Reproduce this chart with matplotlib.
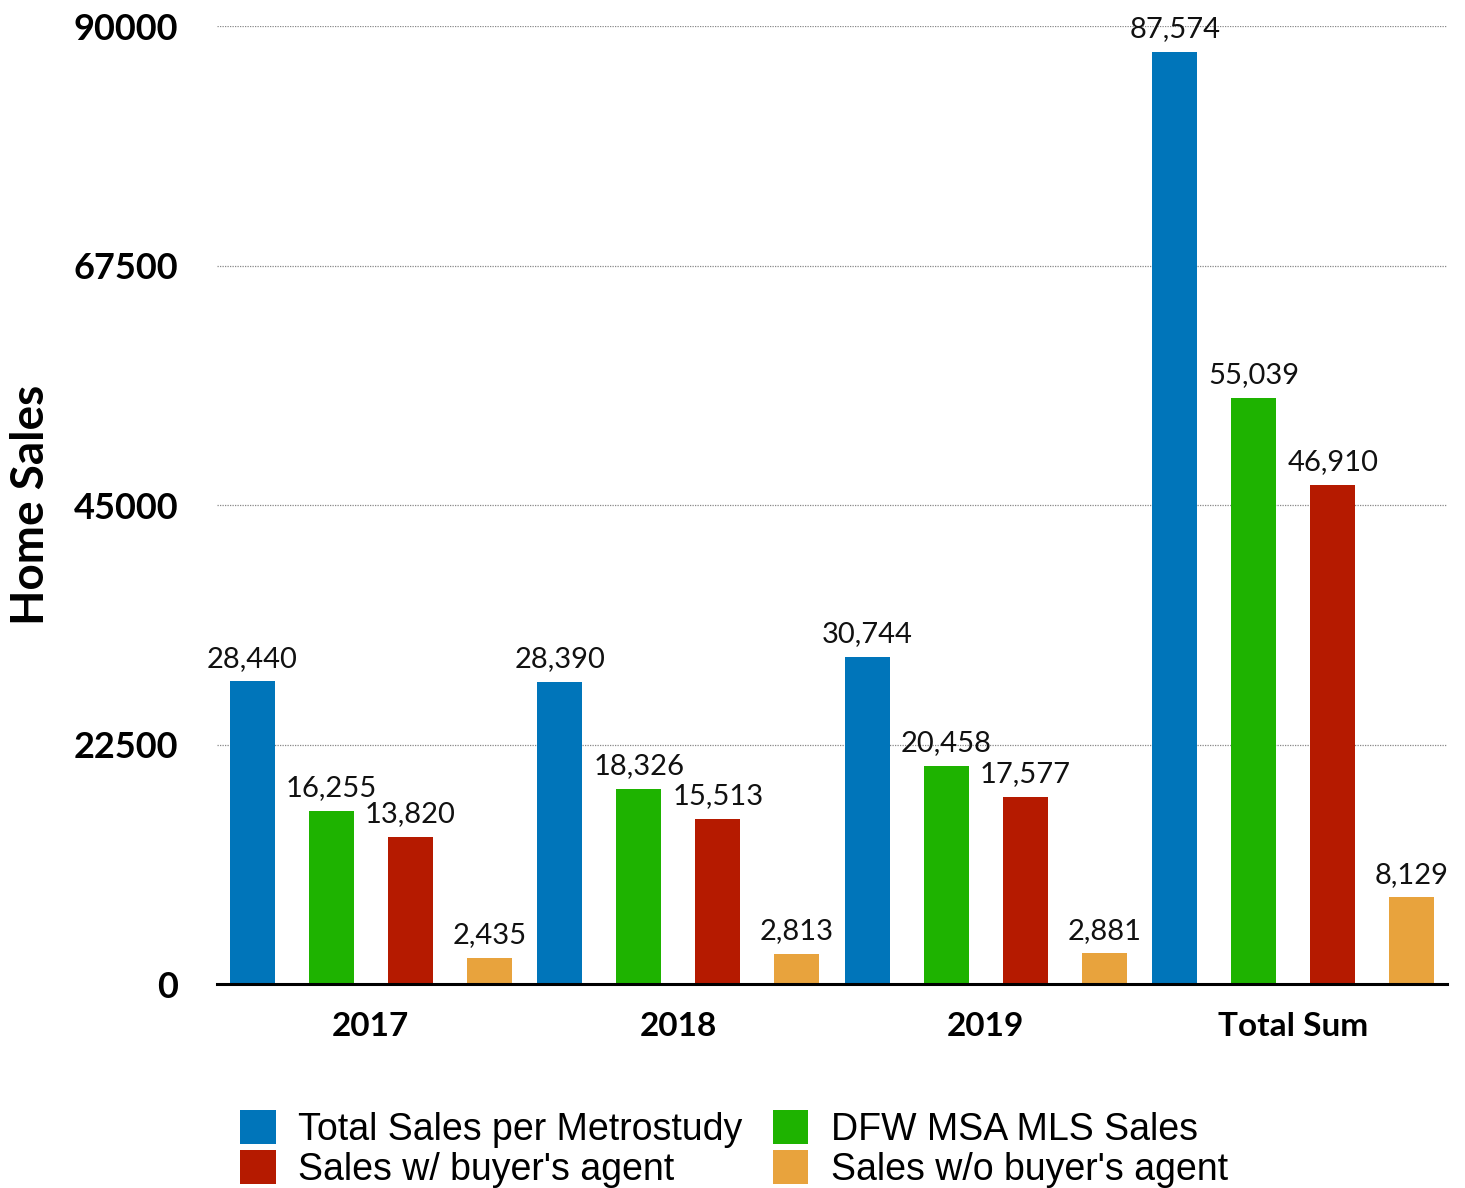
import matplotlib
matplotlib.use("Agg")
import matplotlib.pyplot as plt
from matplotlib.patches import Patch
import numpy as np

categories = ["2017", "2018", "2019", "Total Sum"]
series_names = ["Total Sales per Metrostudy", "DFW MSA MLS Sales",
                "Sales w/ buyer's agent", "Sales w/o buyer's agent"]
total_metrostudy = [28440, 28390, 30744, 87574]
dfw_mls = [16255, 18326, 20458, 55039]
with_agent = [13820, 15513, 17577, 46910]
without_agent = [2435, 2813, 2881, 8129]
y_ticks = [0, 22500, 45000, 67500, 90000]

colors = ["#0075BA", "#1EB300", "#B51A00", "#E8A33D"]
series = [total_metrostudy, dfw_mls, with_agent, without_agent]

fig = plt.figure(figsize=(14.65, 11.88), dpi=100)
ax = fig.add_axes([0.1481, 0.1717, 0.8396, 0.8064])

x = np.arange(len(categories))
pitch = 0.257
width = 0.146
offsets = [-1.5 * pitch, -0.5 * pitch, 0.5 * pitch, 1.5 * pitch]

label_font = "Lato"
for vals, col, off in zip(series, colors, offsets):
    bars = ax.bar(x + off, vals, width=width, color=col, zorder=3)
    for b, v in zip(bars, vals):
        ax.annotate(f"{v:,}", (b.get_x() + b.get_width() / 2, v),
                    xytext=(0, 7), textcoords="offset points",
                    ha="center", va="bottom", fontsize=21,
                    family=label_font, color="#111111")

ax.set_xlim(-0.5, 3.5)
ax.set_ylim(0, 90000)
ax.set_yticks(y_ticks)
ax.set_yticklabels([str(t) for t in y_ticks], fontsize=26,
                   fontweight="bold", family=label_font)
ax.set_xticks(x)
ax.set_xticklabels(categories, fontsize=24, fontweight="bold",
                   family=label_font)
ax.tick_params(axis="y", length=0, pad=28)
ax.tick_params(axis="x", length=0, pad=20)

ax.grid(axis="y", linestyle=(0, (1, 1)), color="#888888", linewidth=0.9,
        zorder=0)
for s in ["top", "right", "left"]:
    ax.spines[s].set_visible(False)
ax.spines["bottom"].set_linewidth(2.2)
ax.spines["bottom"].set_zorder(4)

ax.set_ylabel("Home Sales", fontsize=33, fontweight="bold",
              family=label_font)
ax.yaxis.set_label_coords(-0.134, 0.5)

# legend fills row-wise: two entries per row
order = [0, 2, 1, 3]
handles = [Patch(facecolor=colors[i], label=series_names[i]) for i in order]
fig.legend(handles=handles, loc="lower left", bbox_to_anchor=(0.146, -0.022),
           ncol=2, frameon=False,
           prop={"family": "Liberation Sans", "size": 27},
           handlelength=0.95, handleheight=1.05, handletextpad=0.6,
           columnspacing=0.8, labelspacing=0.05, borderpad=0.2)

fig.savefig("out.png", dpi=100)
